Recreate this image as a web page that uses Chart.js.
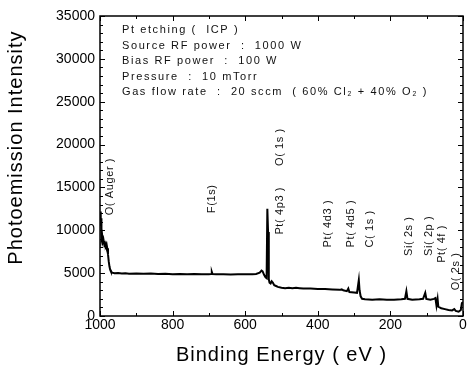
<!DOCTYPE html>
<html><head><meta charset="utf-8">
<script src="https://cdn.jsdelivr.net/npm/chart.js@4/dist/chart.umd.min.js"></script>
<style>html,body{margin:0;padding:0;background:#fff}#wrap{width:469px;height:366px}</style>
</head><body><div id="wrap"><canvas id="c" width="469" height="366"></canvas></div>
<script>
const bindingEnergy = [1000,998,997,996,994,992,990,988,986,984,982,980,978,976,974,972,970,966,960,950,940,930,920,900,880,860,840,820,800,780,760,740,720,700,694,692,690,680,660,640,620,600,580,570,560,555,552,548,544,541,539,537,535,533,530,527,524,520,515,510,500,490,480,470,460,450,440,420,400,380,360,340,334,330,320,316,313,300,292,287,285,282,278,270,250,230,210,190,170,160,156,153,140,120,110,104,101,90,80,76,73,70,68,60,50,40,30,24,20,12,6,3,0];
const intensity = [12200,10500,11400,9000,9400,8600,8800,8300,8500,8200,8400,7900,7200,6400,5800,5400,5200,5050,4980,5020,4950,4980,4930,4960,4920,4950,4900,4930,4880,4900,4870,4890,4860,4880,4900,5150,4900,4870,4880,4850,4870,4860,4880,4900,5050,5300,5200,4800,4500,4400,12500,9800,4300,3900,3800,4050,3900,3600,3500,3400,3300,3250,3300,3250,3300,3250,3200,3200,3150,3150,3100,3050,3100,3000,2900,3200,2800,2750,2700,4200,3000,2300,2000,1950,1900,1950,1900,1900,1950,2000,2900,2000,1900,1950,2000,2700,2000,1900,2000,2100,1200,2000,1100,900,800,700,650,800,600,500,700,1500,1600];
const xTickValues = [1000,800,600,400,200,0];
const yTickValues = [0,5000,10000,15000,20000,25000,30000,35000];
const peakNames = ["O( Auger )","F(1s)","Pt( 4p3 )","O( 1s )","Pt( 4d3 )","Pt( 4d5 )","C( 1s )","Si( 2s )","Si( 2p )","Pt( 4f )","O( 2s )"];
const peakEnergy = [972,692,504,504,371,310,257,150,95,57,19];
const peakBase = [11750,12000,9500,17500,8000,8000,8000,7000,7000,6200,3000];
const conditionLines = ["Pt etching (  ICP )","Source RF power  :  1000 W","Bias RF power  :  100 W","Pressure  :  10 mTorr","Gas flow rate  :  20 sccm  ( 60% Cl\u2082 + 40% O\u2082 )"];

const FONT = "'Liberation Sans', Arial, sans-serif";

const decor = {
  id: 'decor',
  afterDraw(chart) {
    const {ctx, chartArea: a, scales: {x, y}} = chart;
    ctx.save();
    ctx.strokeStyle = '#000';
    ctx.lineWidth = 1.5;
    ctx.strokeRect(a.left, a.top, a.right - a.left, a.bottom - a.top);
    ctx.lineWidth = 1;
    ctx.beginPath();
    for (let v = 0; v <= 35000; v += 1000) {
      const py = Math.round(y.getPixelForValue(v)) + 0.5;
      const len = v % 5000 === 0 ? 5 : 3;
      ctx.moveTo(a.left, py); ctx.lineTo(a.left + len, py);
      ctx.moveTo(a.right, py); ctx.lineTo(a.right - len, py);
    }
    for (let v = 0; v <= 1000; v += 100) {
      const px = Math.round(x.getPixelForValue(v)) + 0.5;
      const len = v % 200 === 0 ? 5 : 3;
      ctx.moveTo(px, a.bottom); ctx.lineTo(px, a.bottom - len);
      ctx.moveTo(px, a.top); ctx.lineTo(px, a.top + len);
    }
    ctx.stroke();

    // condition text
    ctx.fillStyle = '#111';
    ctx.font = '11px ' + FONT;
    if ('letterSpacing' in ctx) ctx.letterSpacing = '1.6px';
    ctx.textAlign = 'left';
    ctx.textBaseline = 'middle';
    conditionLines.forEach((t, i) => ctx.fillText(t, a.left + 22, a.top + 14 + i * 15.5));

    // peak labels (rotated)
    ctx.font = '11px ' + FONT;
    if ('letterSpacing' in ctx) ctx.letterSpacing = '0.6px';
    peakNames.forEach((t, i) => {
      ctx.save();
      ctx.translate(x.getPixelForValue(peakEnergy[i]), y.getPixelForValue(peakBase[i]));
      ctx.rotate(-Math.PI / 2);
      ctx.textAlign = 'left';
      ctx.textBaseline = 'middle';
      ctx.fillText(t, 0, 0);
      ctx.restore();
    });

    // axis titles
    ctx.fillStyle = '#000';
    ctx.font = '20px ' + FONT;
    if ('letterSpacing' in ctx) ctx.letterSpacing = '1px';
    ctx.textAlign = 'center';
    ctx.textBaseline = 'middle';
    ctx.fillText('Binding Energy ( eV )', (a.left + a.right) / 2, 355);
    ctx.save();
    ctx.translate(16, (a.top + y.getPixelForValue(5000)) / 2 + 3);
    ctx.rotate(-Math.PI / 2);
    ctx.fillText('Photoemission Intensity', 0, 0);
    ctx.restore();
    if ('letterSpacing' in ctx) ctx.letterSpacing = '0px';
    ctx.restore();
  }
};

new Chart(document.getElementById('c'), {
  type: 'line',
  data: {
    datasets: [{
      data: bindingEnergy.map((e, i) => ({x: e, y: intensity[i]})),
      borderColor: '#000',
      borderWidth: 2,
      pointRadius: 0,
      tension: 0,
      fill: false
    }]
  },
  options: {
    responsive: false,
    animation: false,
    devicePixelRatio: 1,
    layout: {padding: {top: 16, right: 6, left: 0, bottom: 0}},
    plugins: {legend: {display: false}, tooltip: {enabled: false}},
    scales: {
      x: {
        type: 'linear', reverse: true, min: 0, max: 1000,
        afterBuildTicks: s => { s.ticks = xTickValues.map(v => ({value: v})); },
        afterFit: s => { s.height = 50; },
        grid: {display: false, drawTicks: false},
        border: {display: false},
        ticks: {color: '#000', font: {family: FONT, size: 14}, padding: 1, maxRotation: 0, autoSkip: false, callback: v => String(v)}
      },
      y: {
        type: 'linear', min: 0, max: 35000,
        afterBuildTicks: s => { s.ticks = yTickValues.map(v => ({value: v})); },
        afterFit: s => { s.width = 100; },
        grid: {display: false, drawTicks: false},
        border: {display: false},
        ticks: {color: '#000', font: {family: FONT, size: 14}, padding: 5, autoSkip: false, callback: v => String(v)}
      }
    }
  },
  plugins: [decor]
});
</script>
</body></html>
